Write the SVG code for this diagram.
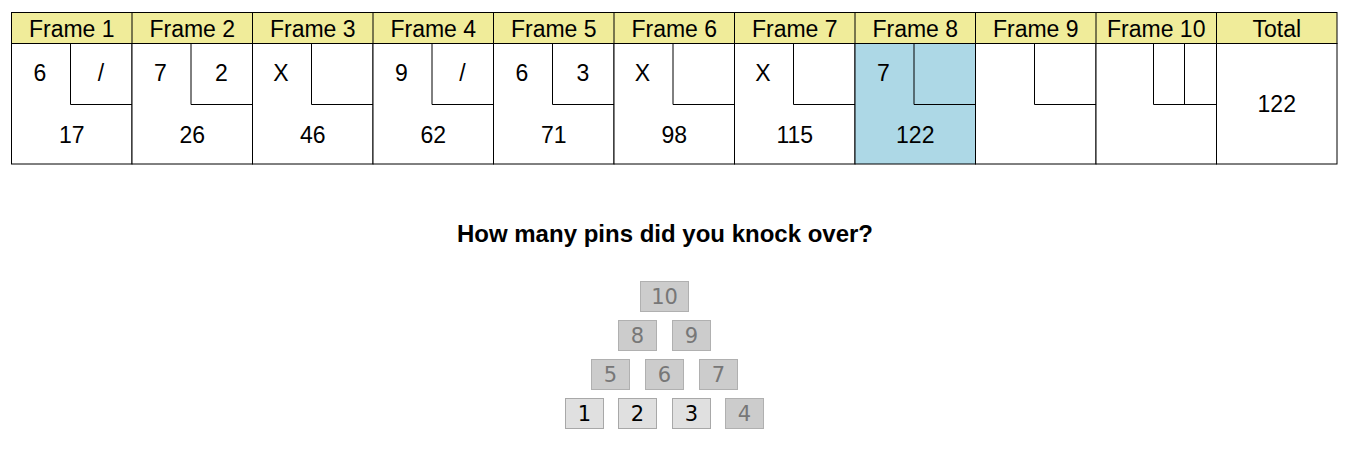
<svg xmlns="http://www.w3.org/2000/svg" width="1350" height="449" viewBox="0 0 1350 449">
<style>
.hd{fill:#F0EC9A;stroke:#000;stroke-width:1}
.cell{fill:#fff;stroke:#000;stroke-width:1}
.cur{fill:#ADD8E6;stroke:#000;stroke-width:1}
.ln{fill:none;stroke:#000;stroke-width:1}
.t{font-family:"Liberation Sans",Arial,sans-serif;font-size:23px;fill:#000;text-anchor:middle}
.q{font-family:"Liberation Sans",Arial,sans-serif;font-size:24px;font-weight:bold;fill:#000;text-anchor:middle}
.pin{fill:#CCCCCC;stroke:#B0B0B0;stroke-width:1}
.pinon{fill:#E0E0E0;stroke:#A8A8A8;stroke-width:1}
.pt{font-family:"DejaVu Sans",Verdana,sans-serif;font-size:21px;fill:#777;text-anchor:middle}
.pton{fill:#000}
</style>
<rect width="1350" height="449" fill="#fff"/>
<g id="header">
<rect class="hd" x="11.5" y="12.5" width="1325.5" height="31"/>
<text class="t" x="71.75" y="36.5">Frame 1</text>
<text class="t" x="192.25" y="36.5">Frame 2</text>
<text class="t" x="312.75" y="36.5">Frame 3</text>
<text class="t" x="433.25" y="36.5">Frame 4</text>
<text class="t" x="553.75" y="36.5">Frame 5</text>
<text class="t" x="674.25" y="36.5">Frame 6</text>
<text class="t" x="794.75" y="36.5">Frame 7</text>
<text class="t" x="915.25" y="36.5">Frame 8</text>
<text class="t" x="1035.75" y="36.5">Frame 9</text>
<text class="t" x="1156.25" y="36.5">Frame 10</text>
<text class="t" x="1276.75" y="36.5">Total</text>
<path class="ln" d="M132 12.5V43.5M252.5 12.5V43.5M373 12.5V43.5M493.5 12.5V43.5M614 12.5V43.5M734.5 12.5V43.5M855 12.5V43.5M975.5 12.5V43.5M1096 12.5V43.5M1216.5 12.5V43.5"/>
</g>
<g id="frame1">
<rect class="cell" x="11.5" y="43.5" width="120.5" height="120.5"/>
<path class="ln" d="M70.5 43.5V104.5H132"/>
<text class="t" x="40" y="81">6</text><text class="t" x="101" y="81">/</text><text class="t" x="71.75" y="143">17</text>
</g>
<g id="frame2">
<rect class="cell" x="132" y="43.5" width="120.5" height="120.5"/>
<path class="ln" d="M191 43.5V104.5H252.5"/>
<text class="t" x="160.5" y="81">7</text><text class="t" x="221.5" y="81">2</text><text class="t" x="192.25" y="143">26</text>
</g>
<g id="frame3">
<rect class="cell" x="252.5" y="43.5" width="120.5" height="120.5"/>
<path class="ln" d="M311.5 43.5V104.5H373"/>
<text class="t" x="281" y="81">X</text><text class="t" x="312.75" y="143">46</text>
</g>
<g id="frame4">
<rect class="cell" x="373" y="43.5" width="120.5" height="120.5"/>
<path class="ln" d="M432 43.5V104.5H493.5"/>
<text class="t" x="401.5" y="81">9</text><text class="t" x="462.5" y="81">/</text><text class="t" x="433.25" y="143">62</text>
</g>
<g id="frame5">
<rect class="cell" x="493.5" y="43.5" width="120.5" height="120.5"/>
<path class="ln" d="M552.5 43.5V104.5H614"/>
<text class="t" x="522" y="81">6</text><text class="t" x="583" y="81">3</text><text class="t" x="553.75" y="143">71</text>
</g>
<g id="frame6">
<rect class="cell" x="614" y="43.5" width="120.5" height="120.5"/>
<path class="ln" d="M673 43.5V104.5H734.5"/>
<text class="t" x="642.5" y="81">X</text><text class="t" x="674.25" y="143">98</text>
</g>
<g id="frame7">
<rect class="cell" x="734.5" y="43.5" width="120.5" height="120.5"/>
<path class="ln" d="M793.5 43.5V104.5H855"/>
<text class="t" x="763" y="81">X</text><text class="t" x="794.75" y="143">115</text>
</g>
<g id="frame8">
<rect class="cur" x="855" y="43.5" width="120.5" height="120.5"/>
<path class="ln" d="M914 43.5V104.5H975.5"/>
<text class="t" x="883.5" y="81">7</text><text class="t" x="915.25" y="143">122</text>
</g>
<g id="frame9">
<rect class="cell" x="975.5" y="43.5" width="120.5" height="120.5"/>
<path class="ln" d="M1034.5 43.5V104.5H1096"/>
</g>
<g id="frame10">
<rect class="cell" x="1096" y="43.5" width="120.5" height="120.5"/>
<path class="ln" d="M1153.5 43.5V104.5H1216.5M1184.5 43.5V104.5"/>
</g>
<g id="total">
<rect class="cell" x="1216.5" y="43.5" width="120.5" height="120.5"/>
<text class="t" x="1276.75" y="112">122</text>
</g>
<text class="q" x="665" y="242">How many pins did you knock over?</text>
<g id="pins">
<g id="pin10"><rect class="pin" x="640.5" y="281.5" width="48" height="30"/><text class="pt" x="664.5" y="304">10</text></g>
<g id="pin8"><rect class="pin" x="618.5" y="320.5" width="38" height="30"/><text class="pt" x="637.5" y="343">8</text></g>
<g id="pin9"><rect class="pin" x="672.5" y="320.5" width="38" height="30"/><text class="pt" x="691.5" y="343">9</text></g>
<g id="pin5"><rect class="pin" x="591.5" y="359.5" width="38" height="30"/><text class="pt" x="610.5" y="382">5</text></g>
<g id="pin6"><rect class="pin" x="645.5" y="359.5" width="38" height="30"/><text class="pt" x="664.5" y="382">6</text></g>
<g id="pin7"><rect class="pin" x="699.5" y="359.5" width="38" height="30"/><text class="pt" x="718.5" y="382">7</text></g>
<g id="pin1"><rect class="pinon" x="565.5" y="398.5" width="38" height="30"/><text class="pt pton" x="584.5" y="421">1</text></g>
<g id="pin2"><rect class="pinon" x="618.5" y="398.5" width="38" height="30"/><text class="pt pton" x="637.5" y="421">2</text></g>
<g id="pin3"><rect class="pinon" x="672.5" y="398.5" width="38" height="30"/><text class="pt pton" x="691.5" y="421">3</text></g>
<g id="pin4"><rect class="pin" x="725.5" y="398.5" width="38" height="30"/><text class="pt" x="744.5" y="421">4</text></g>
</g>
</svg>
